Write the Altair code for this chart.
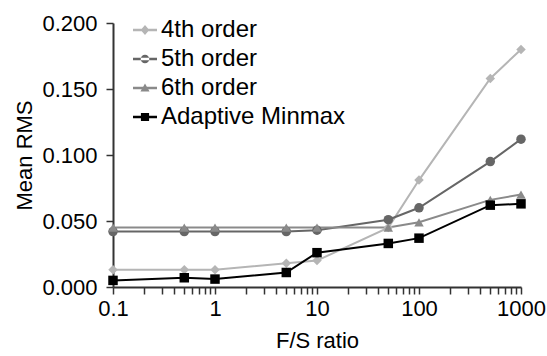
import altair as alt
import pandas as pd

fs_ratio = [0.1, 0.5, 1, 5, 10, 50, 100, 500, 1000]
series_names = ["4th order", "5th order", "6th order", "Adaptive Minmax"]
order4 = [0.013, 0.013, 0.013, 0.018, 0.020, 0.045, 0.081, 0.158, 0.180]
order5 = [0.042, 0.042, 0.042, 0.042, 0.043, 0.051, 0.060, 0.095, 0.112]
order6 = [0.045, 0.045, 0.045, 0.045, 0.045, 0.045, 0.049, 0.066, 0.070]
minmax = [0.005, 0.007, 0.006, 0.011, 0.026, 0.033, 0.037, 0.062, 0.063]
y_ticks = [0.0, 0.05, 0.1, 0.15, 0.2]
x_major = [0.1, 1, 10, 100, 1000]

colors = ["#b5b5b5", "#666666", "#8a8a8a", "#000000"]
shapes = ["diamond", "circle", "triangle-up", "square"]
line_path = "M-1,-0.1H1V0.1H-1Z"
legend_shapes = [
    line_path + "M0,-0.42L0.36,0L0,0.42L-0.36,0Z",
    line_path + "M-0.36,0A0.36,0.36 0 1,0 0.36,0A0.36,0.36 0 1,0 -0.36,0Z",
    line_path + "M0,-0.38L0.38,0.3L-0.38,0.3Z",
    line_path + "M-0.34,-0.34H0.34V0.34H-0.34Z",
]

rows = []
for name, vals in zip(series_names, [order4, order5, order6, minmax]):
    for x, v in zip(fs_ratio, vals):
        rows.append({"fs": x, "rms": v, "series": name})
df = pd.DataFrame(rows)
legend_df = pd.DataFrame({"series": series_names})

x_ticks = []
for d in [0.1, 1, 10, 100]:
    for k in range(1, 10):
        x_ticks.append(round(d * k, 6))
x_ticks.append(1000)

FONT = "Liberation Sans"

x_enc = alt.X(
    "fs:Q",
    scale=alt.Scale(type="log", domain=[0.1, 1000], nice=False),
    axis=alt.Axis(
        title="F/S ratio",
        values=x_ticks,
        labelExpr="indexof([0.1, 1, 10, 100, 1000], datum.value) >= 0 ? format(datum.value, '~g') : ''",
        labelOverlap=False,
        labelFlush=False,
        grid=False,
        tickSize=7,
        labelPadding=4,
        titlePadding=11,
    ),
)
y_enc = alt.Y(
    "rms:Q",
    scale=alt.Scale(domain=[0, 0.2], nice=False),
    axis=alt.Axis(
        title="Mean RMS",
        values=y_ticks,
        format=".3f",
        grid=False,
        tickSize=7,
        labelPadding=9,
        titlePadding=5,
        labelFlush=False,
    ),
)
color_scale = alt.Scale(domain=series_names, range=colors)

lines = alt.Chart(df).mark_line(strokeWidth=2).encode(
    x=x_enc,
    y=y_enc,
    color=alt.Color("series:N", scale=color_scale, legend=None),
)
points = alt.Chart(df).mark_point(filled=True, opacity=1, size=90, strokeWidth=0).encode(
    x=x_enc,
    y=y_enc,
    color=alt.Color("series:N", scale=color_scale, legend=None),
    shape=alt.Shape("series:N", scale=alt.Scale(domain=series_names, range=shapes), legend=None),
)

legend_props = dict(
    orient="none",
    legendX=20,
    legendY=-5,
    title=None,
    symbolSize=576,
    symbolOpacity=1,
    symbolStrokeWidth=0,
    labelFontSize=24,
    labelFont=FONT,
    labelColor="#000000",
    labelOffset=4,
    labelLimit=0,
    rowPadding=5,
    padding=0,
)

legend_layer = alt.Chart(legend_df).mark_point(filled=True, opacity=0).encode(
    color=alt.Color(
        "series:N",
        scale=alt.Scale(domain=series_names, range=colors),
        legend=alt.Legend(**legend_props),
    ),
    shape=alt.Shape(
        "series:N",
        scale=alt.Scale(domain=series_names, range=legend_shapes),
        legend=alt.Legend(**legend_props),
    ),
)

chart = (
    alt.layer(lines, points, legend_layer)
    .resolve_scale(color="independent", shape="independent")
    .properties(
        width=408,
        height=264,
        autosize=alt.AutoSizeParams(type="none"),
        padding={"left": 113, "top": 23, "right": 26, "bottom": 69},
        background="white",
    )
    .configure_view(stroke=None)
    .configure_axis(
        labelFont=FONT,
        titleFont=FONT,
        labelFontSize=22,
        titleFontSize=22,
        titleFontWeight="normal",
        labelColor="#000000",
        titleColor="#000000",
        domainColor="#333333",
        tickColor="#333333",
        domainWidth=2,
        tickWidth=1.5,
    )
)

chart.save("out.html", embed_options={"renderer": "svg", "actions": False})
